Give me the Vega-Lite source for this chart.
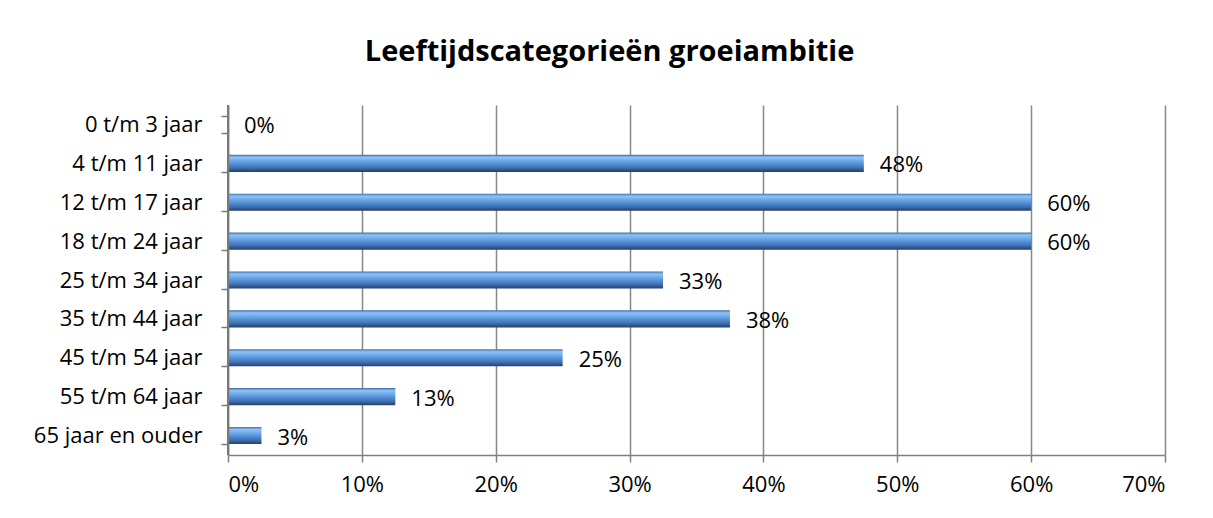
{
  "$schema": "https://vega.github.io/schema/vega-lite/v6.json",
  "width": 937,
  "height": 350,
  "autosize": "none",
  "padding": {"left": 228, "top": 105, "right": 48, "bottom": 63},
  "background": "white",
  "title": {
    "text": "Leeftijdscategorieën groeiambitie",
    "font": "Open Sans",
    "fontSize": 29,
    "fontWeight": "bold",
    "color": "black",
    "anchor": "middle",
    "frame": "bounds",
    "offset": 27,
    "dx": 10
  },
  "data": {
    "values": [
      {"cat": "0 t/m 3 jaar", "value": 0, "label": "0%"},
      {"cat": "4 t/m 11 jaar", "value": 0.475, "label": "48%"},
      {"cat": "12 t/m 17 jaar", "value": 0.6, "label": "60%"},
      {"cat": "18 t/m 24 jaar", "value": 0.6, "label": "60%"},
      {"cat": "25 t/m 34 jaar", "value": 0.325, "label": "33%"},
      {"cat": "35 t/m 44 jaar", "value": 0.375, "label": "38%"},
      {"cat": "45 t/m 54 jaar", "value": 0.25, "label": "25%"},
      {"cat": "55 t/m 64 jaar", "value": 0.125, "label": "13%"},
      {"cat": "65 jaar en ouder", "value": 0.025, "label": "3%"}
    ]
  },
  "encoding": {
    "y": {
      "field": "cat",
      "type": "nominal",
      "sort": null,
      "title": null,
      "scale": {"paddingInner": 0.56, "paddingOuter": 0.28},
      "axis": {
        "labelFont": "Open Sans",
        "labelFontSize": 22,
        "labelColor": "black",
        "labelPadding": 19,
        "domainColor": "#7a7a7a",
        "domainWidth": 1.5,
        "tickColor": "#7a7a7a",
        "tickWidth": 1.5,
        "tickSize": 7,
        "tickBand": "extent",
        "grid": false,
        "zindex": 1
      }
    },
    "x": {
      "field": "value",
      "type": "quantitative",
      "title": null,
      "scale": {"domain": [0, 0.7], "nice": false},
      "axis": {
        "format": ".0%",
        "values": [0, 0.1, 0.2, 0.3, 0.4, 0.5, 0.6, 0.7],
        "labelFont": "Open Sans",
        "labelFontSize": 22,
        "labelColor": "black",
        "labelPadding": 12,
        "domainColor": "#808080",
        "domainWidth": 1.5,
        "tickColor": "#808080",
        "tickWidth": 1.5,
        "tickSize": 7,
        "grid": true,
        "gridColor": "#888888",
        "gridWidth": 1.5
      }
    }
  },
  "layer": [
    {
      "mark": {
        "type": "bar",
        "color": {
          "gradient": "linear",
          "x1": 0, "y1": 0, "x2": 0, "y2": 1,
          "stops": [
            {"offset": 0, "color": "#3f70ad"},
            {"offset": 0.15, "color": "#8fc3f6"},
            {"offset": 0.45, "color": "#5e9be0"},
            {"offset": 0.75, "color": "#3f73b5"},
            {"offset": 1, "color": "#243f68"}
          ]
        }
      }
    },
    {
      "mark": {"type": "rule", "color": "#7a7a7a", "strokeWidth": 1.5},
      "encoding": {"x": {"datum": 0}, "y": null}
    },
    {
      "mark": {
        "type": "text",
        "align": "left",
        "baseline": "middle",
        "dx": 16,
        "dy": 2,
        "font": "Open Sans",
        "fontSize": 22,
        "color": "black"
      },
      "encoding": {"text": {"field": "label"}}
    }
  ],
  "config": {"view": {"stroke": null}}
}
